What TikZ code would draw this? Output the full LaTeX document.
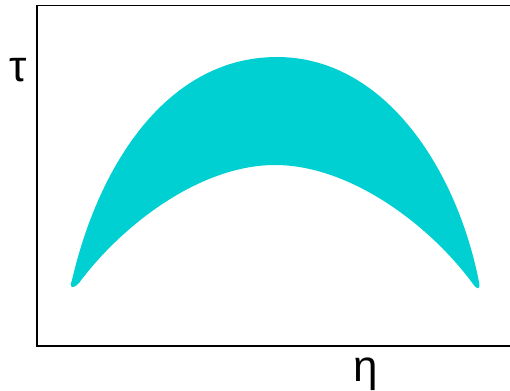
\documentclass[tikz,border=0pt]{standalone}
\usepackage{fontspec}
\setmainfont{Liberation Sans}
\definecolor{turq}{RGB}{0,208,209}

\begin{document}
\begin{tikzpicture}[
    x=0.02cm, y=-0.02cm,
    axlab/.style={inner sep=0pt, font=\fontsize{25}{28}\selectfont},
  ]
  \useasboundingbox (0,0) rectangle (510,390);
  %% ---- frame ------------------------------------------------------------
  \draw[line width=0.8pt] (510,5.5) -- (37,5.5) -- (37,346) -- (510,346);

  %% ---- band -------------------------------------------------------------
  \fill[turq] (72,280)
    .. controls (100,160) and (170,57) .. (277,57)
    .. controls (385,57) and (457,170) .. (479,282)
    .. controls (481,290) and (477,290) .. (473,284)
    .. controls (430,225) and (350,165) .. (275,165)
    .. controls (200,165) and (122,225) .. (79,283)
    .. controls (72,290) and (69,288) .. (72,280) -- cycle;

  %% ---- labels -----------------------------------------------------------
  \node[axlab] (tau) at (18,70) {τ};
  \node[axlab] (eta) at (366,374) {η};
\end{tikzpicture}
\end{document}
